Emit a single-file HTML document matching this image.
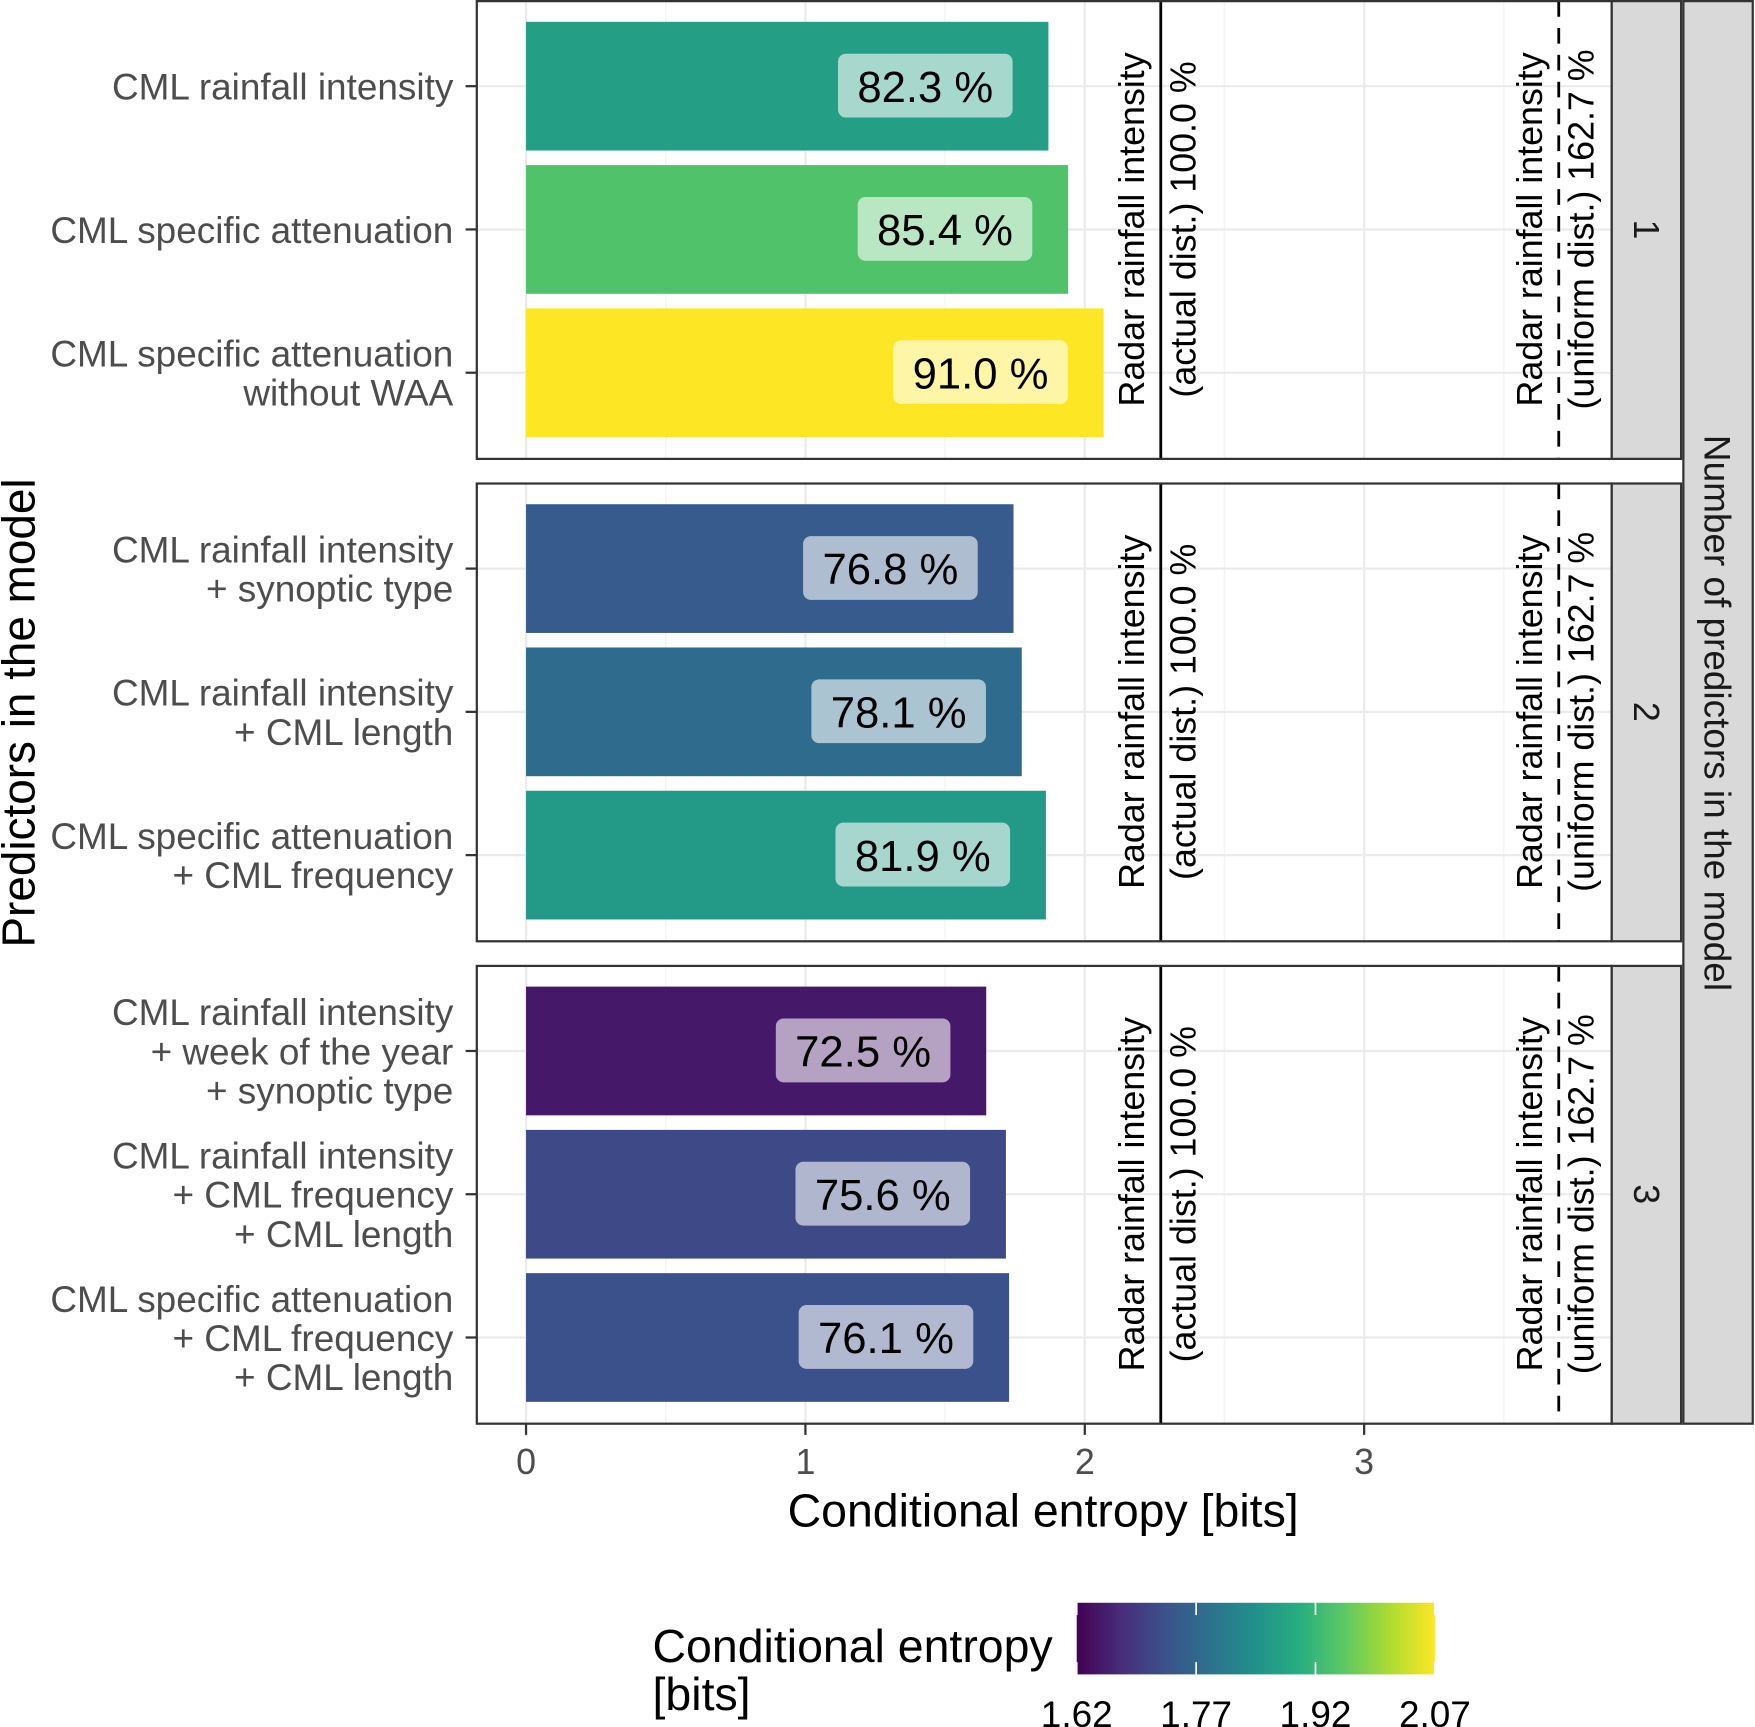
<!DOCTYPE html>
<html><head><meta charset="utf-8"><style>
html,body{margin:0;padding:0;background:#fff;}
svg{display:block;font-family:"Liberation Sans",Arial,sans-serif;}
</style></head><body>
<svg id="chart" width="1755" height="1727" viewBox="0 0 1568 1543" preserveAspectRatio="none" xmlns="http://www.w3.org/2000/svg"></svg>
<script>
const panelIds = [1, 2, 3];
const categories = [
  ["CML rainfall intensity"],
  ["CML specific attenuation"],
  ["CML specific attenuation", "without WAA"],
  ["CML rainfall intensity", "+ synoptic type"],
  ["CML rainfall intensity", "+ CML length"],
  ["CML specific attenuation", "+ CML frequency"],
  ["CML rainfall intensity", "+ week of the year", "+ synoptic type"],
  ["CML rainfall intensity", "+ CML frequency", "+ CML length"],
  ["CML specific attenuation", "+ CML frequency", "+ CML length"]
];
const panelOf = [1, 1, 1, 2, 2, 2, 3, 3, 3];
const percentValues = [82.3, 85.4, 91.0, 76.8, 78.1, 81.9, 72.5, 75.6, 76.1];
const radarActual = 2.272;
const radarUniformPct = 162.7;
const xTicks = [0, 1, 2, 3];
const legendTicks = [1.62, 1.77, 1.92, 2.07];

const NS = "http://www.w3.org/2000/svg";
const svg = document.getElementById("chart");
function mk(tag, attrs, parent, text) {
  const e = document.createElementNS(NS, tag);
  for (const k in attrs) e.setAttribute(k, attrs[k]);
  if (text !== undefined) e.textContent = text;
  (parent || svg).appendChild(e);
  return e;
}
const X0 = 470, PX = 249.6;
const xs = v => X0 + v * PX;
const panelTop = [1, 432, 863], panelH = 409, PL = 426, PR = 1440;
const band = 128;
const entropy = percentValues.map(p => p / 100 * radarActual);
const eMin = Math.min(...entropy) - 0.03, eMax = Math.max(...entropy);
const vir = ["#440154","#472d7b","#3b528b","#2c728e","#21918c","#28ae80","#5ec962","#addc30","#fde725"];
function hex(c){return [1,3,5].map(i=>parseInt(c.substr(i,2),16));}
function viridis(t){
  t=Math.max(0,Math.min(1,t));const s=t*(vir.length-1);const i=Math.min(vir.length-2,Math.floor(s));const f=s-i;
  const a=hex(vir[i]),b=hex(vir[i+1]);
  return "rgb("+a.map((v,k)=>Math.round(v+(b[k]-v)*f)).join(",")+")";
}
const colorOf = e => viridis((e - eMin) / (eMax - eMin));

panelIds.forEach((pid, pi) => {
  const top = panelTop[pi];
  const g = mk("g", {});
  
  
  mk("rect", {x: PL, y: top, width: PR - PL, height: panelH, fill: "#fff"}, g);
  xTicks.forEach(t => {
    mk("line", {x1: xs(t), x2: xs(t), y1: top, y2: top + panelH, stroke: "#ebebeb", "stroke-width": 2}, g);
    mk("line", {x1: xs(t + 0.5), x2: xs(t + 0.5), y1: top, y2: top + panelH, stroke: "#f3f3f3", "stroke-width": 1.2}, g);
  });
  const idx = panelOf.map((p, i) => p === pid ? i : -1).filter(i => i >= 0);
  idx.forEach((ci, k) => {
    const cy = top + 76 + k * band;
    mk("line", {x1: PL, x2: PR, y1: cy, y2: cy, stroke: "#ebebeb", "stroke-width": 2}, g);
  });
  idx.forEach((ci, k) => {
    const cy = top + 76 + k * band;
    const e = entropy[ci];
    const bar = mk("rect", {x: xs(0), y: cy - 57.5, width: xs(e) - xs(0), height: 115, fill: colorOf(e)}, g);
    
    
    const lx = xs(e) - 110;
    const lb = mk("rect", {x: lx - 78, y: cy - 29, width: 156, height: 57, rx: 7, fill: "rgba(255,255,255,0.6)"}, g);
    
    
    const lt = mk("text", {x: lx, y: cy + 14, "text-anchor": "middle", "font-size": 39, fill: "#000"}, g, percentValues[ci].toFixed(1) + " %");
    
    
    const lines = categories[ci];
    const n = lines.length;
    lines.forEach((ln, j) => {
      const t = mk("text", {x: 405, y: cy + 12 + (j - (n - 1) / 2) * 35, "text-anchor": "end", "font-size": 33, fill: "#4d4d4d"}, null, ln);
      
      
    });
    mk("line", {x1: 416, x2: PL, y1: cy, y2: cy, stroke: "#333", "stroke-width": 2});
  });
  const xa = xs(radarActual), xu = xs(radarActual * radarUniformPct / 100);
  const l1 = mk("line", {x1: xa, x2: xa, y1: top, y2: top + panelH, stroke: "#000", "stroke-width": 2.5}, g);
  
  
  const l2 = mk("line", {x1: xu, x2: xu, y1: top, y2: top + panelH, stroke: "#000", "stroke-width": 2.5, "stroke-dasharray": "14,10"}, g);
  
  
  const cyp = top + 204;
  [[xa - 15, "Radar rainfall intensity"], [xa + 31, "(actual dist.) 100.0 %"],
   [xu - 15, "Radar rainfall intensity"], [xu + 31, "(uniform dist.) " + radarUniformPct.toFixed(1) + " %"]].forEach(([x, s]) => {
    const t = mk("text", {x: 0, y: 0, transform: `translate(${x},${cyp}) rotate(-90)`, "text-anchor": "middle", "font-size": 32, fill: "#000"}, g, s);
    
    
  });
  mk("rect", {x: PL, y: top, width: PR - PL, height: panelH, fill: "none", stroke: "#333", "stroke-width": 2}, g);
  const st = mk("rect", {x: PR, y: top, width: 62, height: panelH, fill: "#d9d9d9", stroke: "#333", "stroke-width": 2}, g);
  
  
  mk("text", {x: 0, y: 0, transform: `translate(${PR + 20},${cyp}) rotate(90)`, "text-anchor": "middle", "font-size": 32, fill: "#1a1a1a"}, g, String(pid));
});
const os = mk("rect", {x: 1504, y: 1, width: 62, height: 1271, fill: "#d9d9d9", stroke: "#333", "stroke-width": 2});


mk("text", {x: 0, y: 0, transform: "translate(1523,637) rotate(90)", "text-anchor": "middle", "font-size": 33, fill: "#1a1a1a"}, null, "Number of predictors in the model");
xTicks.forEach(t => {
  mk("line", {x1: xs(t), x2: xs(t), y1: 1272, y2: 1282, stroke: "#333", "stroke-width": 2});
  const tl = mk("text", {x: xs(t), y: 1317, "text-anchor": "middle", "font-size": 32, fill: "#4d4d4d"}, null, String(t));
  
  
});
const xt = mk("text", {x: 932, y: 1364, "text-anchor": "middle", "font-size": 41.5, fill: "#000"}, null, "Conditional entropy [bits]");


const yt = mk("text", {x: 0, y: 0, transform: "translate(31,637) rotate(-90)", "text-anchor": "middle", "font-size": 41, fill: "#000"}, null, "Predictors in the model");


const lg = mk("g", {});


mk("text", {x: 583, y: 1485, "font-size": 41.5, fill: "#000"}, lg, "Conditional entropy");
mk("text", {x: 583, y: 1528, "font-size": 41.5, fill: "#000"}, lg, "[bits]");
const defs = mk("defs", {});
const gr = mk("linearGradient", {id: "vg", x1: 0, x2: 1, y1: 0, y2: 0}, defs);
vir.forEach((c, i) => mk("stop", {offset: i / (vir.length - 1), "stop-color": c}, gr));
const LX0 = 962, LX1 = 1282, L0 = 1.62, L1 = 2.07;
mk("rect", {x: LX0, y: 1432, width: LX1 - LX0, height: 64, fill: "url(#vg)"}, lg);
const lxs = v => LX0 + (v - L0) / (L1 - L0) * (LX1 - LX0);
legendTicks.forEach(t => {
  mk("line", {x1: lxs(t), x2: lxs(t), y1: 1432, y2: 1443, stroke: "#fff", "stroke-width": 1.5}, lg);
  mk("line", {x1: lxs(t), x2: lxs(t), y1: 1485, y2: 1496, stroke: "#fff", "stroke-width": 1.5}, lg);
  mk("text", {x: lxs(t), y: 1543, "text-anchor": "middle", "font-size": 33, fill: "#000"}, lg, t.toFixed(2));
});
</script>
</body></html>
